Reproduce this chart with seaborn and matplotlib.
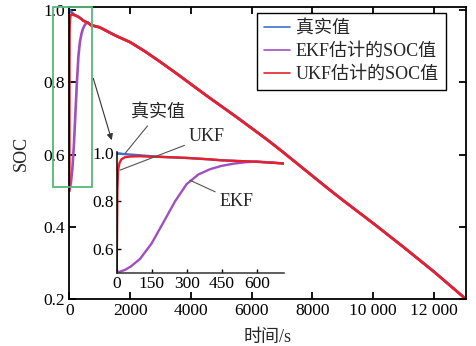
import numpy as np
import pandas as pd
import matplotlib
matplotlib.use("Agg")
import matplotlib.pyplot as plt
import seaborn as sns
from matplotlib.patches import Rectangle

# ---------------- data ----------------
time_early = [0, 3, 6, 12, 20, 35, 60, 100, 150, 200, 250, 300, 350,
              400, 450, 500, 550, 600, 650, 715]
soc_true_early = [1.000, 1.000, 0.999, 0.999, 0.998, 0.997, 0.995, 0.992,
                  0.988, 0.985, 0.983, 0.981, 0.978, 0.975, 0.971, 0.969,
                  0.967, 0.965, 0.962, 0.958]
soc_ekf_early = [0.500, 0.502, 0.504, 0.506, 0.509, 0.514, 0.528, 0.560,
                 0.625, 0.712, 0.800, 0.872, 0.912, 0.934, 0.948, 0.957,
                 0.963, 0.966, 0.963, 0.958]
soc_ukf_early = [0.500, 0.850, 0.930, 0.960, 0.975, 0.984, 0.987, 0.988,
                 0.986, 0.985, 0.983, 0.981, 0.978, 0.975, 0.971, 0.969,
                 0.967, 0.965, 0.962, 0.958]
time_late = [1000, 1500, 2000, 2500, 3000, 3500, 4000, 4500, 5000, 5500,
             6000, 6500, 7000, 7500, 8000, 8500, 9000, 9500, 10000, 10500,
             11000, 11500, 12000, 12500, 13000, 13050]
soc_late = [0.952, 0.930, 0.911, 0.885, 0.856, 0.826, 0.795, 0.764, 0.734,
            0.704, 0.673, 0.642, 0.609, 0.575, 0.541, 0.507, 0.474, 0.442,
            0.410, 0.377, 0.344, 0.310, 0.276, 0.240, 0.204, 0.200]

series_names = ["真实值", "EKF估计的SOC值", "UKF估计的SOC值"]
series_colors = ["#3d6fcc", "#a04fc0", "#e8202a"]
x_ticks = [0, 2000, 4000, 6000, 8000, 10000, 12000]
x_tick_labels = ["0", "2000", "4000", "6000", "8000", "10 000", "12 000"]
y_ticks = [0.2, 0.4, 0.6, 0.8, 1.0]
inset_x_ticks = [0, 150, 300, 450, 600]
inset_y_ticks = [0.6, 0.8, 1.0]

# ---------------- build table ----------------
rows = []
for name, early in zip(series_names, [soc_true_early, soc_ekf_early, soc_ukf_early]):
    for t, v in zip(time_early + time_late, early + soc_late):
        rows.append((t, v, name))
df = pd.DataFrame(rows, columns=["time", "soc", "series"])
palette = dict(zip(series_names, series_colors))

# ---------------- style ----------------
sns.set_theme(style="ticks")
FONT = ["Liberation Serif", "Noto Sans CJK SC"]
plt.rcParams["font.family"] = FONT
plt.rcParams["axes.unicode_minus"] = False

W, H = 476, 346
fig = plt.figure(figsize=(W / 100, H / 100), dpi=100)
fig.patch.set_facecolor("white")

def fx(px):
    return px / W

def fy(py):
    return (H - py) / H

# main axes
L, R, T, B = 69.3, 466.0, 6.7, 299.3
ax = fig.add_axes([fx(L), fy(B), fx(R) - fx(L), fy(T) - fy(B)])
sns.lineplot(data=df, x="time", y="soc", hue="series", hue_order=series_names,
             palette=palette, sort=False, estimator=None, lw=1.9, ax=ax)
ax.set_xlim(0, 13050)
ax.set_ylim(0.2, 1.009)
ax.set_xticks(x_ticks)
ax.set_xticklabels(x_tick_labels)
ax.set_yticks(y_ticks)
ax.set_yticklabels([f"{v:.1f}" for v in y_ticks])
ax.tick_params(direction="in", length=5, width=1.3, top=True, right=True,
               labelsize=12.5, pad=3, color="black", labelcolor="black")
for s in ax.spines.values():
    s.set_linewidth(1.3)
    s.set_color("black")
ax.set_xlabel("时间/s", fontsize=13, labelpad=7)
ax.set_ylabel("SOC", fontsize=13, labelpad=10)

handles, labels = ax.get_legend_handles_labels()
for h in handles:
    h.set_linewidth(1.2)
leg = ax.legend(handles, labels, loc="upper right",
                bbox_to_anchor=(fx(446), fy(13)), bbox_transform=fig.transFigure,
                fontsize=13, frameon=True, fancybox=False, edgecolor="black",
                handlelength=1.45, handletextpad=0.3, labelspacing=0.33,
                borderpad=0.4, borderaxespad=0)
leg.get_frame().set_linewidth(1.0)
leg.get_frame().set_alpha(1)

# green zoom box and arrow
ax.add_patch(Rectangle((-526, 0.51), 757 + 526, 1.0075 - 0.51, fill=False,
                       edgecolor="#55b878", lw=1.3, clip_on=False, zorder=5))
ax.annotate("", xy=(1395, 0.640), xytext=(789, 0.811),
            arrowprops=dict(arrowstyle="-|>", color="#333333", lw=0.8,
                            mutation_scale=9, shrinkA=0, shrinkB=0),
            annotation_clip=False)

# inset axes
iL, iR, iT, iB = 116.7, 284.0, 151.7, 273.3
axi = fig.add_axes([fx(iL), fy(iB), fx(iR) - fx(iL), fy(iT) - fy(iB)])
axi.set_facecolor("none")
sns.lineplot(data=df, x="time", y="soc", hue="series", hue_order=series_names,
             palette=palette, sort=False, estimator=None, lw=1.7, ax=axi,
             legend=False)
axi.set_xlim(0, 717)
axi.set_ylim(0.5, 1.007)
axi.set_xticks(inset_x_ticks)
axi.set_yticks(inset_y_ticks)
axi.set_yticklabels([f"{v:.1f}" for v in inset_y_ticks])
axi.tick_params(direction="in", length=3, width=1.0, labelsize=12.5, pad=2,
                color="black", labelcolor="black")
axi.spines["top"].set_visible(False)
axi.spines["right"].set_visible(False)
axi.spines["left"].set_linewidth(1.1)
axi.spines["bottom"].set_linewidth(1.1)
axi.spines["left"].set_color("black")
axi.spines["bottom"].set_color("#333333")
axi.set_xlabel("")
axi.set_ylabel("")

line_kw = dict(arrowstyle="-", color="#555555", lw=0.8, shrinkA=1, shrinkB=0)
axi.annotate("真实值", xy=(36, 1.0), xytext=(158, H - 113),
             textcoords="figure pixels", ha="center", va="center",
             fontsize=13, arrowprops=line_kw, annotation_clip=False)
axi.annotate("UKF", xy=(14, 0.93), xytext=(207, H - 136.7),
             textcoords="figure pixels", ha="center", va="center",
             fontsize=13, arrowprops=line_kw, annotation_clip=False)
axi.annotate("EKF", xy=(314, 0.888), xytext=(236.7, H - 201.7),
             textcoords="figure pixels", ha="center", va="center",
             fontsize=13, arrowprops=line_kw, annotation_clip=False)

fig.savefig("out.png", dpi=100)
